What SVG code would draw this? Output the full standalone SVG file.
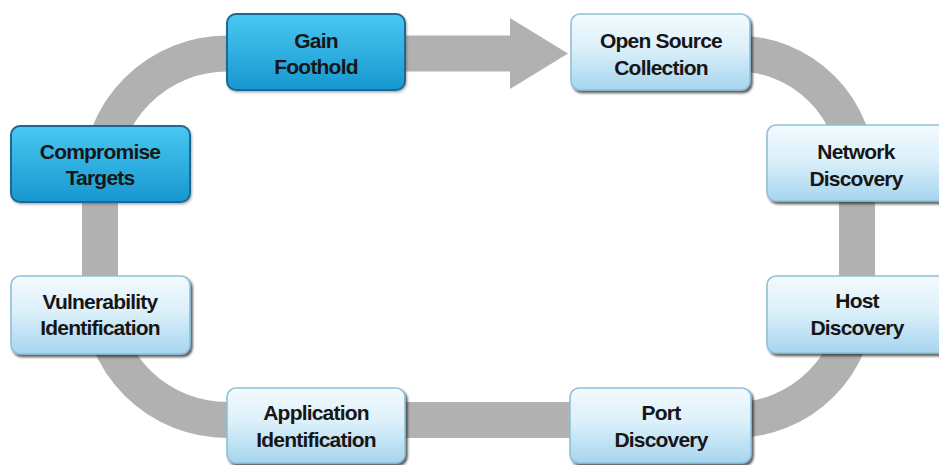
<svg xmlns="http://www.w3.org/2000/svg" width="939" height="465" viewBox="0 0 939 465">
<defs>
<linearGradient id="gDark" x1="0" y1="0" x2="0" y2="1">
<stop offset="0" stop-color="#48c8f1"/>
<stop offset="1" stop-color="#1897d0"/>
</linearGradient>
<linearGradient id="gLight" x1="0" y1="0" x2="0" y2="1">
<stop offset="0" stop-color="#f3fafd"/>
<stop offset="0.45" stop-color="#dcf0fa"/>
<stop offset="1" stop-color="#a6d5ee"/>
</linearGradient>
<filter id="sh" x="-10%" y="-10%" width="125%" height="130%">
<feDropShadow dx="2" dy="2.5" stdDeviation="1.3" flood-color="#2a2a2a" flood-opacity="0.75"/>
</filter>
<filter id="shd" x="-10%" y="-10%" width="125%" height="130%">
<feDropShadow dx="1" dy="1.5" stdDeviation="1" flood-color="#333" flood-opacity="0.4"/>
</filter>
</defs>
<style>
.dark rect{fill:url(#gDark);stroke:#1d6892;stroke-width:2;filter:url(#shd)}
.light rect{fill:url(#gLight);stroke:#8fc0da;stroke-width:1.6;filter:url(#sh)}
text{font-family:"Liberation Sans",Arial,sans-serif;font-weight:bold;font-size:21px;fill:#161616;text-anchor:middle;letter-spacing:-0.8px}
.band{fill:none;stroke:#b1b1b1;stroke-width:36;stroke-linecap:butt}
</style>
<rect width="939" height="465" fill="#ffffff"/>
<g id="connectors">
<path class="band" d="M620,53.5 H737 A120,120 0 0 1 857,173.5 V297 A123,123 0 0 1 734,420 H227 A127,127 0 0 1 100,293 V180.5 A127,127 0 0 1 227,53.5 H511"/>
<polygon points="510,18 568,53.5 510,89" fill="#b1b1b1"/>
</g>
<g id="gain-foothold" class="dark">
<rect x="227" y="14" width="178" height="76" rx="9"/>
<text x="316" y="48">Gain</text>
<text x="316" y="74">Foothold</text>
</g>
<g id="open-source-collection" class="light">
<rect x="571" y="14" width="179" height="76" rx="9"/>
<text x="661" y="48">Open Source</text>
<text x="661" y="75">Collection</text>
</g>
<g id="network-discovery" class="light">
<rect x="767" y="125" width="182" height="76" rx="9"/>
<text x="856" y="159">Network</text>
<text x="856" y="186">Discovery</text>
</g>
<g id="host-discovery" class="light">
<rect x="767" y="276" width="182" height="77" rx="9"/>
<text x="857" y="308">Host</text>
<text x="857" y="335">Discovery</text>
</g>
<g id="port-discovery" class="light">
<rect x="570" y="388" width="181" height="75" rx="9"/>
<text x="661" y="420">Port</text>
<text x="661" y="447">Discovery</text>
</g>
<g id="application-identification" class="light">
<rect x="227" y="388" width="178" height="75" rx="9"/>
<text x="316" y="420">Application</text>
<text x="316" y="447">Identification</text>
</g>
<g id="vulnerability-identification" class="light">
<rect x="11" y="276" width="179" height="78" rx="9"/>
<text x="100" y="309">Vulnerability</text>
<text x="100" y="335">Identification</text>
</g>
<g id="compromise-targets" class="dark">
<rect x="11" y="126" width="179" height="76" rx="9"/>
<text x="100" y="159">Compromise</text>
<text x="100" y="185">Targets</text>
</g>
</svg>
